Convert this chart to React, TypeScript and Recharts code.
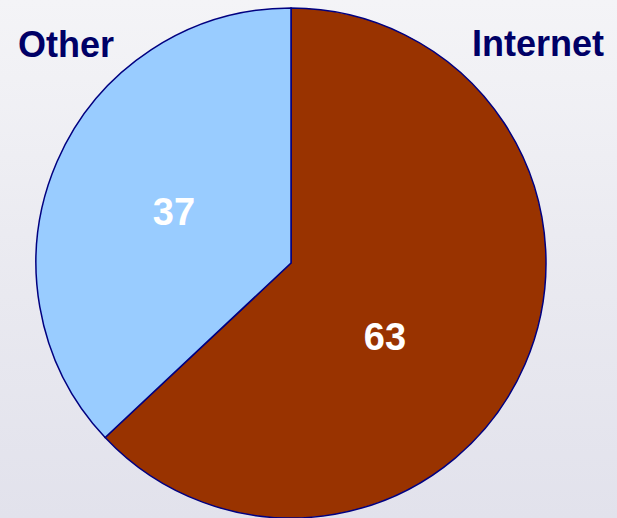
import React from "react";
import { PieChart, Pie, Cell } from "recharts";

const categories = ["Internet", "Other"];
const values = [63, 37];
const colors = ["#993300", "#99CCFF"];

const data = categories.map((name, i) => ({ name, value: values[i] }));

const W = 617;
const H = 518;
const CX = 291;
const CY = 263;
const R = 255;
const RAD = Math.PI / 180;

// label placement (fraction of radius, angle shift in degrees) per slice
const labelPlacement: Record<string, { f: number; shift: number }> = {
  Internet: { f: 0.47, shift: -15 },
  Other: { f: 0.5, shift: 0 },
};

const renderLabel = (props: any) => {
  const { cx, cy, midAngle, outerRadius, value, name } = props;
  const p = labelPlacement[name] || { f: 0.5, shift: 0 };
  const a = (midAngle + p.shift) * RAD;
  const r = outerRadius * p.f;
  const x = cx + r * Math.cos(a);
  const y = cy - r * Math.sin(a);
  return (
    <text
      x={x}
      y={y}
      fill="#FFFFFF"
      textAnchor="middle"
      dominantBaseline="central"
      fontFamily="'Liberation Sans', Arial, sans-serif"
      fontWeight="bold"
      fontSize={38}
    >
      {value}
    </text>
  );
};

export default function App() {
  return (
    <div
      style={{
        position: "absolute",
        left: 0,
        top: 0,
        width: W,
        height: H,
        overflow: "hidden",
        background: "linear-gradient(180deg, #F4F4F7 0%, #EBEBF1 45%, #E2E2EC 100%)",
      }}
    >
      <PieChart width={W} height={H} margin={{ top: 0, right: 0, bottom: 0, left: 0 }}>
        <Pie
          data={data}
          dataKey="value"
          nameKey="name"
          cx={CX}
          cy={CY}
          outerRadius={R}
          startAngle={90}
          endAngle={-270}
          stroke="#000080"
          strokeWidth={1.5}
          label={renderLabel}
          labelLine={false}
          isAnimationActive={false}
        >
          {data.map((d, i) => (
            <Cell key={d.name} fill={colors[i]} />
          ))}
        </Pie>
      </PieChart>
      <div
        style={{
          position: "absolute",
          left: 18,
          top: 23,
          fontFamily: "'Liberation Sans', Arial, sans-serif",
          fontWeight: "bold",
          fontSize: 36,
          color: "#000066",
          lineHeight: "44px",
        }}
      >
        {categories[1]}
      </div>
      <div
        style={{
          position: "absolute",
          right: 13,
          top: 22,
          fontFamily: "'Liberation Sans', Arial, sans-serif",
          fontWeight: "bold",
          fontSize: 36,
          color: "#000066",
          lineHeight: "44px",
        }}
      >
        {categories[0]}
      </div>
    </div>
  );
}
